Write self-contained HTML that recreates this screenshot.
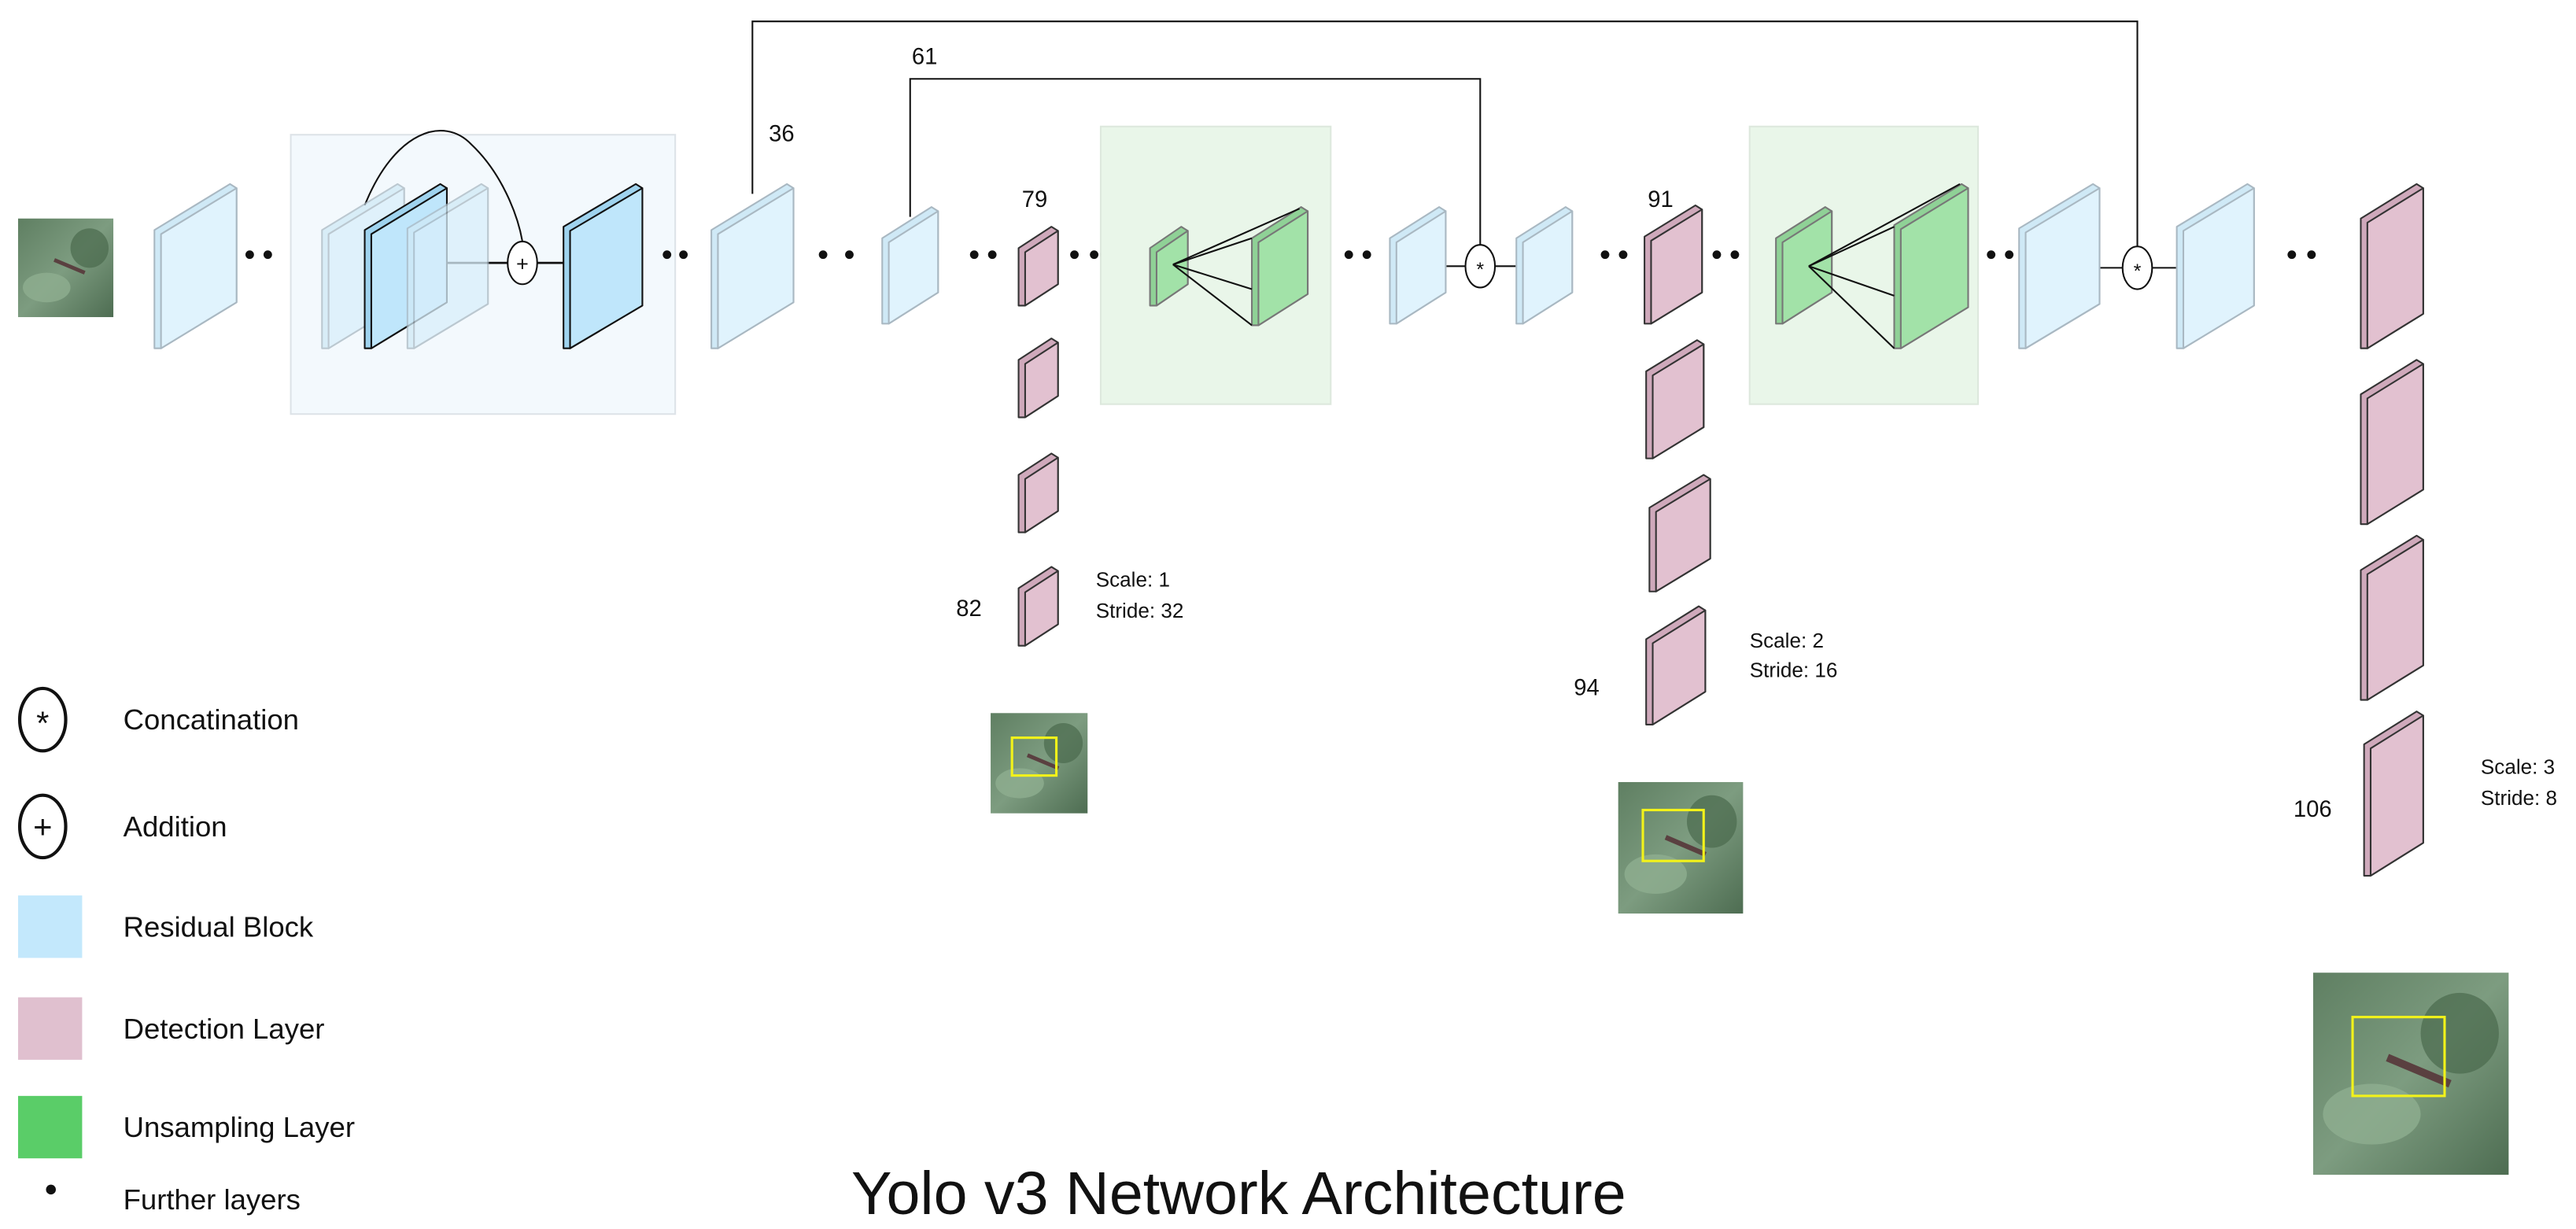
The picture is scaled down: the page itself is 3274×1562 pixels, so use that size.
<!DOCTYPE html>
<html><head><meta charset="utf-8"><style>
html,body{margin:0;padding:0;background:#fff;}
svg{display:block;}
text{font-family:"Liberation Sans",sans-serif;fill:#111;}
</style></head><body>
<svg id="s" width="3274" height="1562" viewBox="0 0 1568 748" preserveAspectRatio="none" xmlns="http://www.w3.org/2000/svg">
<defs>
<linearGradient id="leaf" x1="0" y1="0" x2="1" y2="1">
<stop offset="0" stop-color="#5f7f62"/><stop offset="0.5" stop-color="#7d9c80"/><stop offset="1" stop-color="#4e6d52"/>
</linearGradient>
</defs>
<rect x="177" y="82" width="234" height="170" fill="#f3f9fd" stroke="#dde3e8" stroke-width="1"/>
<rect x="670" y="77" width="140" height="169" fill="#e9f6e9" stroke="#dde8dd" stroke-width="1"/>
<rect x="1065" y="77" width="139" height="169" fill="#e9f6e9" stroke="#dde8dd" stroke-width="1"/>
<g fill="none" stroke="#111" stroke-width="1">
<polyline points="458,118 458,13 1301,13 1301,150"/>
<polyline points="554,132 554,48 901,48 901,150"/>
<path d="M222,125 C240,80 270,70 287,88 C305,105 315,130 318,147"/>
<line x1="272" y1="160" x2="309" y2="160" stroke-width="1.3"/>
<line x1="327" y1="160" x2="343" y2="160" stroke-width="1.3"/>
<line x1="866" y1="162" x2="892" y2="162"/>
<line x1="910" y1="162" x2="923" y2="162"/>
<line x1="1256" y1="163" x2="1292" y2="163"/>
<line x1="1310" y1="163" x2="1325" y2="163"/>
</g>
<g id="layers"></g>
<g fill="none" stroke="#111" stroke-width="1">
<line x1="714" y1="161" x2="791" y2="127"/><line x1="714" y1="161" x2="762" y2="145"/>
<line x1="714" y1="161" x2="762" y2="176"/><line x1="714" y1="161" x2="762" y2="198"/>
<line x1="1101" y1="162" x2="1193" y2="112"/><line x1="1101" y1="162" x2="1153" y2="138"/>
<line x1="1101" y1="162" x2="1153" y2="180"/><line x1="1101" y1="162" x2="1153" y2="212"/>
</g>
<g fill="#fff" stroke="#111" stroke-width="1">
<ellipse cx="318" cy="160" rx="9" ry="13"/>
<ellipse cx="901" cy="162" rx="9" ry="13"/>
<ellipse cx="1301" cy="163" rx="9" ry="13"/>
</g>
<text x="318" y="165" font-size="13" text-anchor="middle">+</text>
<text x="901" y="168" font-size="12" text-anchor="middle">*</text>
<text x="1301" y="169" font-size="12" text-anchor="middle">*</text>
<g id="dots" fill="#111"></g>
<g id="imgs"></g>
<g font-size="14">
<text x="468" y="86">36</text>
<text x="555" y="39">61</text>
<text x="622" y="126">79</text>
<text x="1003" y="126">91</text>
<text x="582" y="375">82</text>
<text x="958" y="423">94</text>
<text x="1396" y="497">106</text>
</g>
<g font-size="12.5">
<text x="667" y="357">Scale: 1</text><text x="667" y="376">Stride: 32</text>
<text x="1065" y="394">Scale: 2</text><text x="1065" y="412">Stride: 16</text>
<text x="1510" y="471">Scale: 3</text><text x="1510" y="490">Stride: 8</text>
</g>
<g fill="#fff" stroke="#111" stroke-width="2">
<ellipse cx="26" cy="438" rx="14" ry="19"/>
<ellipse cx="26" cy="503" rx="14" ry="19"/>
</g>
<text x="26" y="447" font-size="20" text-anchor="middle">*</text>
<text x="26" y="510" font-size="20" text-anchor="middle">+</text>
<rect x="11" y="545" width="39" height="38" fill="#c3e8fc"/>
<rect x="11" y="607" width="39" height="38" fill="#e0c0cf"/>
<rect x="11" y="667" width="39" height="38" fill="#5acd68"/>
<circle cx="31" cy="724" r="3" fill="#111"/>
<g font-size="17.5">
<text x="75" y="444">Concatination</text>
<text x="75" y="509">Addition</text>
<text x="75" y="570">Residual Block</text>
<text x="75" y="632">Detection Layer</text>
<text x="75" y="692">Unsampling Layer</text>
<text x="75" y="736">Further layers</text>
</g>
<text x="754" y="739" font-size="37" text-anchor="middle">Yolo v3 Network Architecture</text>
</svg>
<script>
var NS="http://www.w3.org/2000/svg";
function el(p,n,a){var e=document.createElementNS(NS,n);for(var k in a)e.setAttribute(k,a[k]);p.appendChild(e);return e;}
var G=document.getElementById("layers");
var C={
 b:["#e0f3fd","#cfe9f6","#a9b8c2",1],
 f:["#d9effb","#cfe9f6","#a9b8c2",0.75],
 d:["#bfe6fb","#9fd3ee","#111",1],
 p:["#e2c1d0","#cfa9bb","#333",1],
 g:["#a2e2a8","#8fd196","#777",1]};
function layer(L,R,T,B,t){
 var c=C[t],s=Math.round((R-L)*0.55),k=4,h=2.5;
 var g=el(G,"g",{opacity:c[3],"stroke-linejoin":"round"});
 el(g,"polygon",{points:[L,T+s,R-k,T,R,T+h,R,B-s,L+k,B,L,B].join(" "),fill:c[1],stroke:c[2],"stroke-width":1});
 el(g,"polygon",{points:[L+k,T+s+h,R,T+h,R,B-s,L+k,B].join(" "),fill:c[0],stroke:c[2],"stroke-width":1});
}
[[94,144,112,212,"b"],[196,246,112,212,"f"],[222,272,112,212,"d"],[248,297,112,212,"f"],[343,391,112,212,"d"],
[433,483,112,212,"b"],[537,571,126,197,"b"],[846,880,126,197,"b"],[923,957,126,197,"b"],[1229,1278,112,212,"b"],[1325,1372,112,212,"b"],
[620,644,138,186,"p"],[620,644,206,254,"p"],[620,644,276,324,"p"],[620,644,345,393,"p"],
[1001,1036,125,197,"p"],[1002,1037,207,279,"p"],[1004,1041,289,360,"p"],[1002,1038,369,441,"p"],
[1437,1475,112,212,"p"],[1437,1475,219,319,"p"],[1437,1475,326,426,"p"],[1439,1475,433,533,"p"],
[700,723,138,186,"g"],[762,796,126,198,"g"],[1081,1115,126,197,"g"],[1153,1198,112,212,"g"]
].forEach(function(a){layer(a[0],a[1],a[2],a[3],a[4]);});
var D=document.getElementById("dots");
[152,163,406,416,501,517,593,604,654,666,821,832,977,988,1045,1056,1212,1223,1395,1407].forEach(function(x){el(D,"circle",{cx:x,cy:155,r:2.6});});
var I=document.getElementById("imgs");
function img(x,y,w,h,yb){
 el(I,"rect",{x:x,y:y,width:w,height:h,fill:"url(#leaf)"});
 el(I,"ellipse",{cx:x+w*0.3,cy:y+h*0.7,rx:w*0.25,ry:h*0.15,fill:"#8fae90",opacity:0.8});
 el(I,"ellipse",{cx:x+w*0.75,cy:y+h*0.3,rx:w*0.2,ry:h*0.2,fill:"#4a6a4d",opacity:0.7});
 el(I,"line",{x1:x+w*0.38,y1:y+h*0.42,x2:x+w*0.7,y2:y+h*0.55,stroke:"#5a4040","stroke-width":Math.max(1.5,w/25)});
 if(yb)el(I,"rect",{x:yb[0],y:yb[1],width:yb[2],height:yb[3],fill:"none",stroke:"#f2f21a","stroke-width":1.5});
}
img(11,133,58,60,null);
img(603,434,59,61,[616,449,27,23]);
img(985,476,76,80,[1000,493,37,31]);
img(1408,592,119,123,[1432,619,56,48]);
</script>
</body></html>
